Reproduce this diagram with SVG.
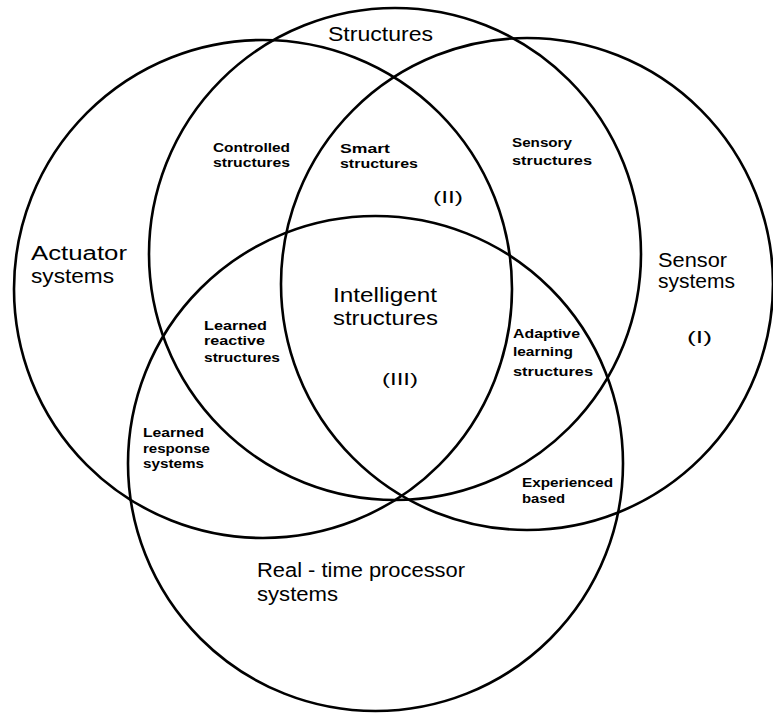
<svg xmlns="http://www.w3.org/2000/svg" width="773" height="715" viewBox="0 0 773 715">
<style>
.c{fill:none;stroke:#000;stroke-width:2.6}
.big{font-family:"Liberation Sans","DejaVu Sans",sans-serif;font-size:20px;fill:#000}
.sm{font-family:"Liberation Sans","DejaVu Sans",sans-serif;font-size:12.5px;font-weight:bold;fill:#000}
.num{font-family:"Liberation Sans","DejaVu Sans",sans-serif;font-size:16px;fill:#000}
</style>
<rect width="773" height="715" fill="#fff"/>
<g id="structures">
<circle class="c" cx="395" cy="254" r="246"/>
<text class="big" x="328" y="41" textLength="105" lengthAdjust="spacingAndGlyphs">Structures</text>
</g>
<g id="actuator-systems">
<circle class="c" cx="263" cy="289" r="249"/>
<text class="big" x="31" y="260" textLength="96" lengthAdjust="spacingAndGlyphs">Actuator</text>
<text class="big" x="31" y="283" textLength="83" lengthAdjust="spacingAndGlyphs">systems</text>
</g>
<g id="sensor-systems">
<circle class="c" cx="527" cy="284" r="246"/>
<text class="big" x="658" y="267" textLength="69" lengthAdjust="spacingAndGlyphs">Sensor</text>
<text class="big" x="658" y="288" textLength="77" lengthAdjust="spacingAndGlyphs">systems</text>
<text class="num" x="687" y="343" textLength="25" lengthAdjust="spacingAndGlyphs">(I)</text>
</g>
<g id="real-time-processor-systems">
<circle class="c" cx="375.5" cy="463.5" r="247.5"/>
<text class="big" x="257" y="577" textLength="208" lengthAdjust="spacingAndGlyphs">Real - time processor</text>
<text class="big" x="257" y="601" textLength="81" lengthAdjust="spacingAndGlyphs">systems</text>
</g>
<g id="controlled-structures">
<text class="sm" x="213" y="152" textLength="77" lengthAdjust="spacingAndGlyphs">Controlled</text>
<text class="sm" x="213" y="167" textLength="77" lengthAdjust="spacingAndGlyphs">structures</text>
</g>
<g id="smart-structures">
<text class="sm" x="340" y="153" textLength="50" lengthAdjust="spacingAndGlyphs">Smart</text>
<text class="sm" x="340" y="168" textLength="78" lengthAdjust="spacingAndGlyphs">structures</text>
<text class="num" x="433" y="203" textLength="30" lengthAdjust="spacingAndGlyphs">(II)</text>
</g>
<g id="sensory-structures">
<text class="sm" x="512" y="147" textLength="60" lengthAdjust="spacingAndGlyphs">Sensory</text>
<text class="sm" x="512" y="165" textLength="80" lengthAdjust="spacingAndGlyphs">structures</text>
</g>
<g id="intelligent-structures">
<text class="big" x="333" y="302" textLength="104" lengthAdjust="spacingAndGlyphs">Intelligent</text>
<text class="big" x="333" y="325" textLength="105" lengthAdjust="spacingAndGlyphs">structures</text>
<text class="num" x="382" y="385" textLength="36" lengthAdjust="spacingAndGlyphs">(III)</text>
</g>
<g id="learned-reactive-structures">
<text class="sm" x="204" y="330" textLength="63" lengthAdjust="spacingAndGlyphs">Learned</text>
<text class="sm" x="204" y="345" textLength="61" lengthAdjust="spacingAndGlyphs">reactive</text>
<text class="sm" x="204" y="362" textLength="76" lengthAdjust="spacingAndGlyphs">structures</text>
</g>
<g id="adaptive-learning-structures">
<text class="sm" x="513" y="338" textLength="67" lengthAdjust="spacingAndGlyphs">Adaptive</text>
<text class="sm" x="513" y="356" textLength="60" lengthAdjust="spacingAndGlyphs">learning</text>
<text class="sm" x="513" y="376" textLength="80" lengthAdjust="spacingAndGlyphs">structures</text>
</g>
<g id="learned-response-systems">
<text class="sm" x="143" y="437" textLength="61" lengthAdjust="spacingAndGlyphs">Learned</text>
<text class="sm" x="143" y="453" textLength="67" lengthAdjust="spacingAndGlyphs">response</text>
<text class="sm" x="143" y="468" textLength="61" lengthAdjust="spacingAndGlyphs">systems</text>
</g>
<g id="experienced-based">
<text class="sm" x="522" y="487" textLength="91" lengthAdjust="spacingAndGlyphs">Experienced</text>
<text class="sm" x="522" y="503" textLength="43" lengthAdjust="spacingAndGlyphs">based</text>
</g>
</svg>
